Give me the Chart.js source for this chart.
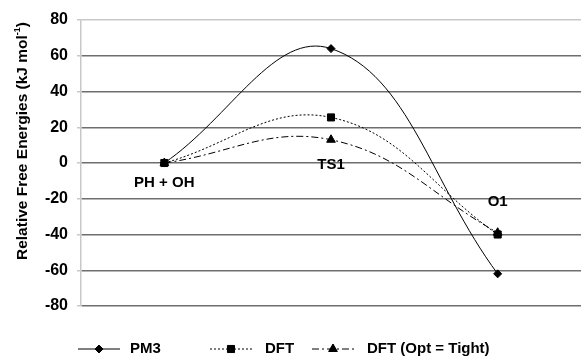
<!DOCTYPE html>
<html>
<head>
<meta charset="utf-8">
<title>Relative Free Energies</title>
<script src="https://cdn.jsdelivr.net/npm/chart.js@4.4.1/dist/chart.umd.min.js"></script>
<style>
  html, body { margin: 0; padding: 0; background: #fff; }
  #wrap { width: 581px; height: 363px; overflow: hidden; }
</style>
</head>
<body>
<div id="wrap"><canvas id="energyChart"></canvas></div>
<script>
// data
const stages = ['PH + OH', 'TS1', 'O1'];
const pm3 = [0, 64, -62];
const dft = [0, 25.5, -40];
const dftTight = [0, 13, -39];
const yTicks = [80, 60, 40, 20, 0, -20, -40, -60, -80];

const FONT = '"Liberation Sans", Arial, sans-serif';

// stage names written inside the plot, under / above the points
const stageLabels = {
  id: 'stageLabels',
  afterDatasetsDraw(chart) {
    const ctx = chart.ctx, x = chart.scales.x, y = chart.scales.y;
    const anchor = [pm3[0], dftTight[1], dft[2]];
    const offset = [20, 25, -33];
    ctx.save();
    ctx.font = 'bold 15px ' + FONT;
    ctx.fillStyle = '#000';
    ctx.textAlign = 'center';
    ctx.textBaseline = 'middle';
    stages.forEach((s, i) => {
      ctx.fillText(s, x.getPixelForValue(i), y.getPixelForValue(anchor[i]) + offset[i]);
    });
    ctx.restore();
  }
};

// y title with a real superscript, top-aligned like the original
const yTitle = {
  id: 'yTitle',
  afterDraw(chart) {
    const ctx = chart.ctx, area = chart.chartArea;
    const main = 'Relative Free Energies (kJ mol';
    const big = 'bold 15.5px ' + FONT, small = 'bold 9px ' + FONT;
    ctx.save();
    ctx.font = big;
    const w1 = ctx.measureText(main).width, w3 = ctx.measureText(')').width;
    ctx.font = small;
    const w2 = ctx.measureText('-1').width;
    const total = w1 + w2 + w3;
    ctx.translate(23, area.top + 2 + total);
    ctx.rotate(-Math.PI / 2);
    ctx.fillStyle = '#000';
    ctx.textBaseline = 'middle';
    ctx.textAlign = 'left';
    ctx.font = big;
    ctx.fillText(main, 0, 0);
    ctx.font = small;
    ctx.fillText('-1', w1, -5);
    ctx.font = big;
    ctx.fillText(')', w1 + w2, 0);
    ctx.restore();
  }
};

// legend drawn by hand so the line style shows with the marker
const lineLegend = {
  id: 'lineLegend',
  afterDraw(chart) {
    const ctx = chart.ctx;
    const items = [[78, 130], [210, 265], [312, 367]];
    const ly = 349;
    ctx.save();
    chart.data.datasets.forEach((ds, i) => {
      const [x0, tx] = items[i];
      ctx.strokeStyle = '#000';
      ctx.lineWidth = 1;
      ctx.setLineDash(ds.borderDash || []);
      ctx.beginPath();
      ctx.moveTo(x0, ly);
      ctx.lineTo(x0 + 42, ly);
      ctx.stroke();
      ctx.setLineDash([]);
      ctx.fillStyle = '#000';
      Chart.helpers.drawPoint(ctx, {
        pointStyle: ds.pointStyle, radius: ds.pointRadius, rotation: 0, borderWidth: 1
      }, x0 + 21, ly);
      ctx.fill();
      ctx.font = 'bold 15px ' + FONT;
      ctx.textAlign = 'left';
      ctx.textBaseline = 'middle';
      ctx.fillText(ds.label, tx, ly);
    });
    ctx.restore();
  }
};

const common = {
  borderColor: '#000',
  backgroundColor: '#000',
  pointBorderColor: '#000',
  pointBackgroundColor: '#000',
  borderWidth: 1,
  tension: 0.4,
  fill: false
};

new Chart(document.getElementById('energyChart'), {
  type: 'line',
  data: {
    labels: stages,
    datasets: [
      Object.assign({ label: 'PM3', data: pm3, pointStyle: 'rectRot', pointRadius: 4 }, common),
      Object.assign({ label: 'DFT', data: dft, pointStyle: 'rect', pointRadius: 5, borderDash: [2, 2] }, common),
      Object.assign({ label: 'DFT (Opt = Tight)', data: dftTight, pointStyle: 'triangle', pointRadius: 5, borderDash: [7, 3, 2, 3] }, common)
    ]
  },
  options: {
    responsive: true,
    maintainAspectRatio: false,
    animation: false,
    layout: { autoPadding: false, padding: { top: 20, right: -5, bottom: 57, left: 0 } },
    plugins: {
      legend: { display: false },
      tooltip: { enabled: false }
    },
    scales: {
      x: {
        offset: true,
        ticks: { display: false },
        grid: { display: false, drawTicks: false },
        border: { display: false }
      },
      y: {
        min: -80,
        max: 80,
        afterBuildTicks: s => { s.ticks = yTicks.map(v => ({ value: v })); },
        afterFit: s => { s.width = 81; },
        ticks: {
          color: '#000',
          padding: 9,
          font: { family: FONT, size: 16, weight: 'bold' }
        },
        grid: {
          color: c => c.tick && c.tick.value === 80 ? '#c8c8c8' : '#6e6e6e',
          tickColor: '#c8c8c8',
          lineWidth: 1.5,
          drawTicks: true,
          tickLength: 4
        },
        border: { color: '#c8c8c8', width: 1.5 },
        title: { display: false }
      }
    }
  },
  plugins: [stageLabels, yTitle, lineLegend]
});
</script>
</body>
</html>
